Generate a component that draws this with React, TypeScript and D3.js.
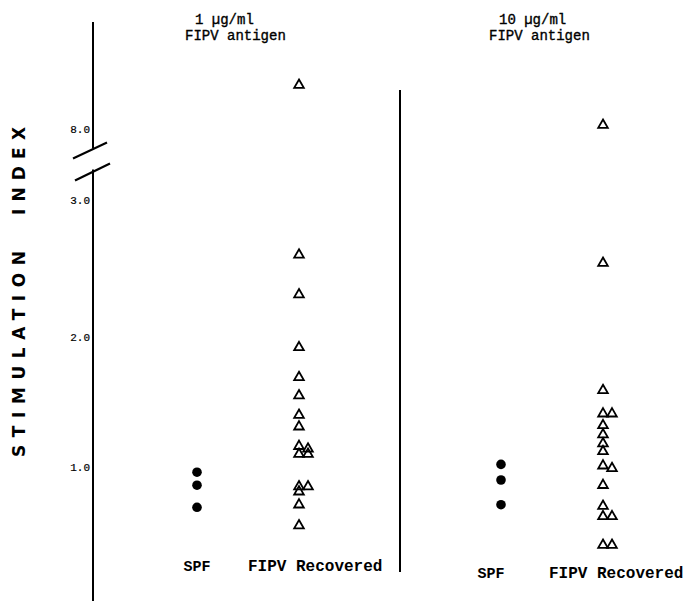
import React from "react";
import * as d3 from "d3";

// values (stimulation index)
const panels = ["1 µg/ml", "10 µg/ml"];
const groups = ["SPF", "FIPV Recovered"];
const spf1 = [0.96, 0.86, 0.69];
const fipv1 = [8.33, 2.6, 2.31, 1.92, 1.69, 1.55, 1.4, 1.31, 1.16, 1.14, 1.1, 1.1, 0.85, 0.85, 0.81, 0.71, 0.55];
const spf10 = [1.02, 0.9, 0.71];
const fipv10 = [8.03, 2.54, 1.59, 1.41, 1.41, 1.32, 1.25, 1.18, 1.12, 1.01, 0.99, 0.86, 0.7, 0.62, 0.62, 0.4, 0.4];
const tickValues = [1, 2, 3, 8];
const tickLabels = ["1.0", "2.0", "3.0", "8.0"];

const width = 686;
const height = 601;
const axisX = 93;
const axisTop = 22;

const series = [
  { panel: panels[0], spf: spf1, fipv: fipv1 },
  { panel: panels[1], spf: spf10, fipv: fipv10 },
];

// layout tweaks for the hand-set labels of each panel
const labelLayout = [
  { spfDx: 0, fipvDx: -51, dy: 0 },
  { spfDx: -10, fipvDx: -54, dy: 7 },
];

const mono = "'Liberation Mono', 'Courier New', monospace";
const titleFont = "'DejaVu Sans', 'Liberation Sans', sans-serif";

// broken axis: piecewise linear, 3.0 -> 8.0 squeezed over the break
const yScale = d3.scaleLinear()
  .domain([1, 2, 3, 8, 9])
  .range([467, 337, 200, 129, -4]);

const panelScale = d3.scaleBand()
  .domain(panels)
  .range([96, 704]);

const groupScale = d3.scalePoint()
  .domain(groups)
  .range([0, panelScale.bandwidth()])
  .padding(0.99);

const triangle = d3.symbol().type(d3.symbolTriangle).size(40)();

// push overlapping triangles sideways
function dodge(values: number[]) {
  const placed: { cy: number; off: number }[] = [];
  return values.map((v) => {
    const cy = yScale(v);
    let off = 0;
    while (placed.some((p) => Math.abs(p.cy - cy) < 5 && Math.abs(p.off - off) < 8)) off += 9;
    placed.push({ cy, off });
    return { v, cy, off };
  });
}

const App = () => {
  const brk = (yScale(3) + yScale(8)) / 2 - 4;

  return (
    <svg width={width} height={height} style={{ position: "absolute", left: 0, top: 0, background: "white" }}>
      {/* y axis with break */}
      <line x1={axisX} x2={axisX} y1={axisTop} y2={brk - 12} stroke="black" strokeWidth={2} />
      <line x1={axisX} x2={axisX} y1={brk + 9} y2={height} stroke="black" strokeWidth={2} />
      <line x1={axisX - 20} x2={axisX + 14} y1={brk - 2} y2={brk - 18} stroke="black" strokeWidth={2.2} />
      <line x1={axisX - 18} x2={axisX + 17} y1={brk + 20} y2={brk + 3} stroke="black" strokeWidth={2.2} />

      {tickValues.map((t, i) => (
        <text key={t} x={axisX - 3} y={yScale(t)} dy="0.35em" textAnchor="end" fill="black"
          stroke="black" strokeWidth={0.2}
          style={{ fontFamily: mono, fontSize: 11 }}>{tickLabels[i]}</text>
      ))}

      {/* y title */}
      <g transform={`translate(25, 0) rotate(-90)`}>
        <text x={-457} y={0} textLength={206} lengthAdjust="spacing"
          style={{ fontFamily: titleFont, fontWeight: "bold", fontSize: 17 }}>STIMULATION</text>
        <text x={-215} y={0} textLength={88} lengthAdjust="spacing"
          style={{ fontFamily: titleFont, fontWeight: "bold", fontSize: 17 }}>INDEX</text>
      </g>

      {/* divider between panels */}
      <line x1={panelScale(panels[1])} x2={panelScale(panels[1])} y1={90} y2={572} stroke="black" strokeWidth={2} />

      {series.map((s, pi) => {
        const x0 = panelScale(s.panel)!;
        const xs = x0 + groupScale(groups[0])!;
        const xf = x0 + groupScale(groups[1])!;
        const lay = labelLayout[pi];
        return (
          <g key={s.panel}>
            <text x={xs - 2} y={24} stroke="black" strokeWidth={0.35}
              style={{ fontFamily: mono, fontSize: 14 }}>{s.panel}</text>
            <text x={xs - 12} y={40} stroke="black" strokeWidth={0.35}
              style={{ fontFamily: mono, fontSize: 14 }}>FIPV antigen</text>

            {s.spf.map((v, i) => (
              <circle key={i} cx={xs} cy={yScale(v)} r={4.8} fill="black" />
            ))}
            {dodge(s.fipv).map((d, i) => (
              <path key={i} d={triangle} transform={`translate(${xf + d.off}, ${d.cy})`}
                fill="white" fillOpacity={0} stroke="black" strokeWidth={1.8} />
            ))}

            <text x={xs + lay.spfDx} y={571 + lay.dy} textAnchor="middle"
              style={{ fontFamily: mono, fontWeight: "bold", fontSize: 15 }}>{groups[0]}</text>
            <text x={xf + lay.fipvDx} y={571 + lay.dy}
              style={{ fontFamily: mono, fontWeight: "bold", fontSize: 16 }}>{groups[1]}</text>
          </g>
        );
      })}
    </svg>
  );
};

export default App;
